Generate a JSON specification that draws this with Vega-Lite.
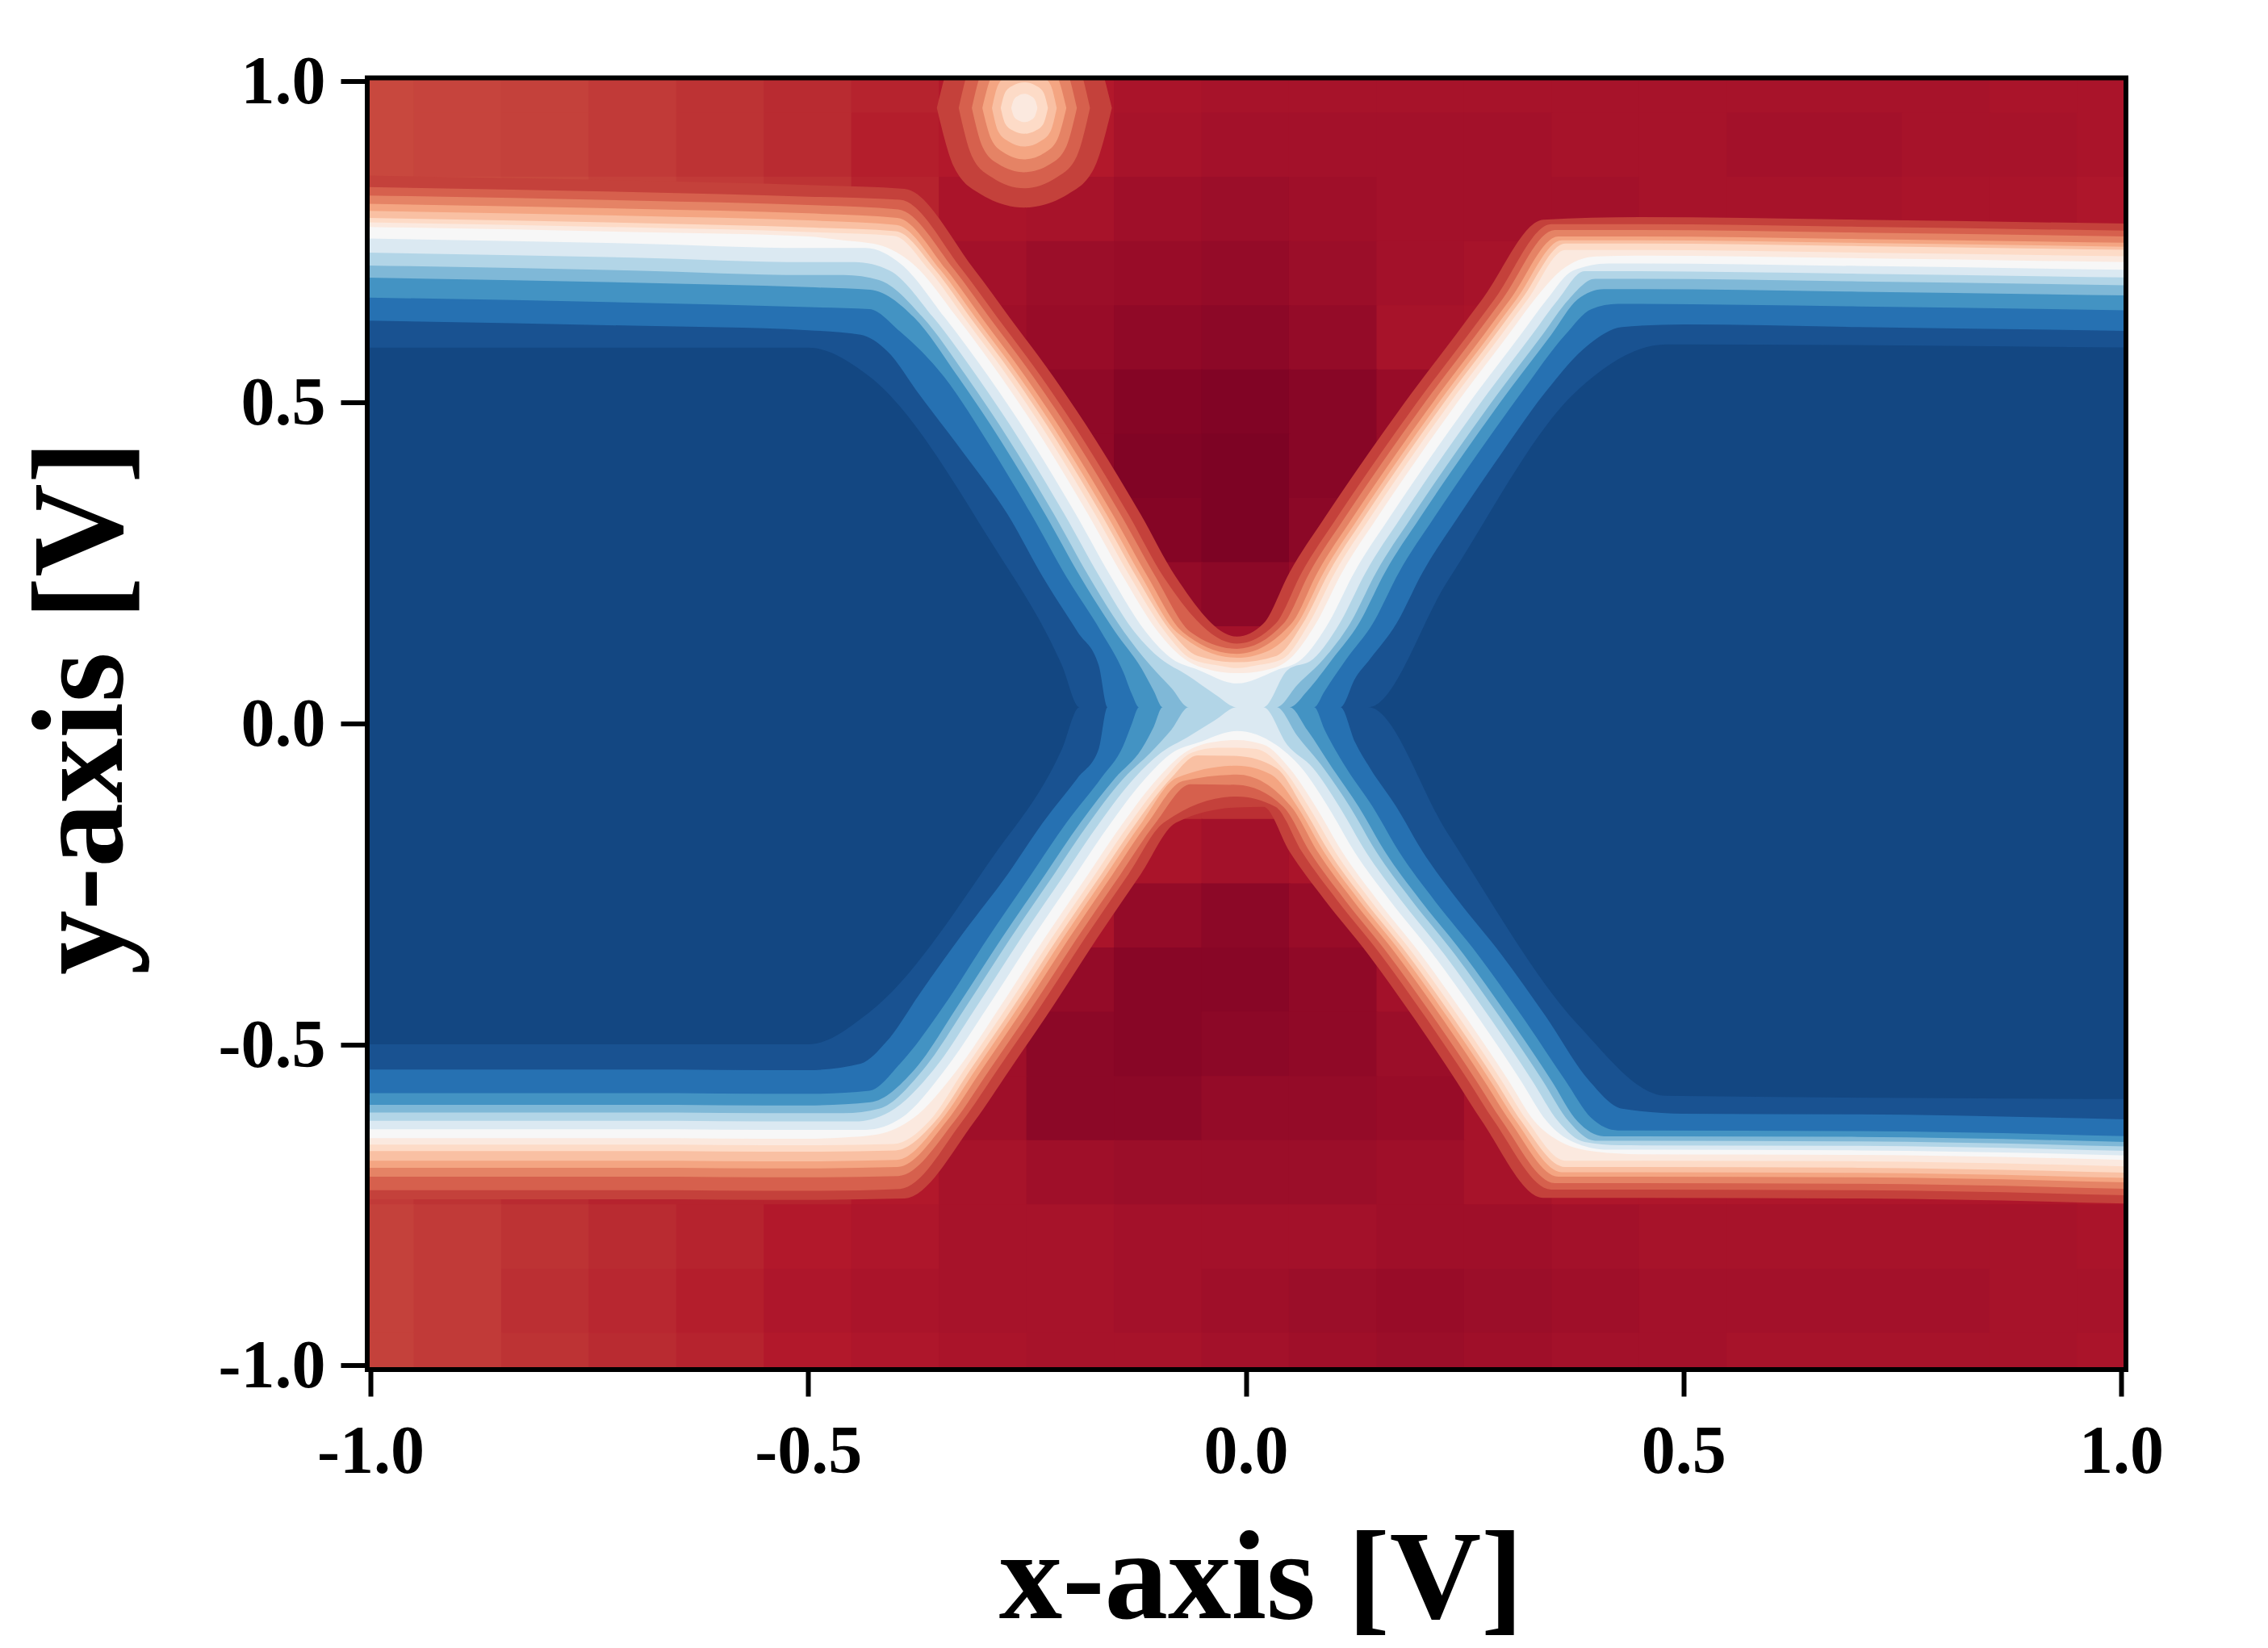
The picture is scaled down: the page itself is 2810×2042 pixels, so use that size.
{"$schema":"https://vega.github.io/schema/vega-lite/v6.json","autosize":{"type":"none"},"padding":{"left":455,"top":96.5,"right":176,"bottom":345},"width":2179,"height":1600.5,"background":"white","config":{"view":{"stroke":null}},
"layer":[
{"data":{"values":[
{"x":-1,"y":1,"v":0.68},{"x":-0.9,"y":1,"v":0.69},{"x":-0.8,"y":1,"v":0.7},{"x":-0.7,"y":1,"v":0.72},{"x":-0.6,"y":1,"v":0.74},{"x":-0.5,"y":1,"v":0.76},{"x":-0.4,"y":1,"v":0.78},{"x":-0.3,"y":1,"v":0.8},{"x":-0.2,"y":1,"v":0.8},{"x":-0.1,"y":1,"v":0.82},{"x":0,"y":1,"v":0.83},{"x":0.1,"y":1,"v":0.83},{"x":0.2,"y":1,"v":0.83},{"x":0.3,"y":1,"v":0.83},{"x":0.4,"y":1,"v":0.83},{"x":0.5,"y":1,"v":0.83},{"x":0.6,"y":1,"v":0.83},{"x":0.7,"y":1,"v":0.83},{"x":0.8,"y":1,"v":0.83},{"x":0.9,"y":1,"v":0.82},{"x":1,"y":1,"v":0.82},
{"x":-1,"y":0.9,"v":0.68},{"x":-0.9,"y":0.9,"v":0.69},{"x":-0.8,"y":0.9,"v":0.7},{"x":-0.7,"y":0.9,"v":0.72},{"x":-0.6,"y":0.9,"v":0.74},{"x":-0.5,"y":0.9,"v":0.76},{"x":-0.4,"y":0.9,"v":0.79},{"x":-0.3,"y":0.9,"v":0.8},{"x":-0.2,"y":0.9,"v":0.8},{"x":-0.1,"y":0.9,"v":0.83},{"x":0,"y":0.9,"v":0.84},{"x":0.1,"y":0.9,"v":0.84},{"x":0.2,"y":0.9,"v":0.84},{"x":0.3,"y":0.9,"v":0.84},{"x":0.4,"y":0.9,"v":0.83},{"x":0.5,"y":0.9,"v":0.83},{"x":0.6,"y":0.9,"v":0.84},{"x":0.7,"y":0.9,"v":0.84},{"x":0.8,"y":0.9,"v":0.83},{"x":0.9,"y":0.9,"v":0.83},{"x":1,"y":0.9,"v":0.82},
{"x":-1,"y":0.8,"v":0.66},{"x":-0.9,"y":0.8,"v":0.67},{"x":-0.8,"y":0.8,"v":0.68},{"x":-0.7,"y":0.8,"v":0.7},{"x":-0.6,"y":0.8,"v":0.72},{"x":-0.5,"y":0.8,"v":0.74},{"x":-0.4,"y":0.8,"v":0.78},{"x":-0.3,"y":0.8,"v":0.82},{"x":-0.2,"y":0.8,"v":0.83},{"x":-0.1,"y":0.8,"v":0.85},{"x":0,"y":0.8,"v":0.86},{"x":0.1,"y":0.8,"v":0.85},{"x":0.2,"y":0.8,"v":0.84},{"x":0.3,"y":0.8,"v":0.84},{"x":0.4,"y":0.8,"v":0.84},{"x":0.5,"y":0.8,"v":0.83},{"x":0.6,"y":0.8,"v":0.83},{"x":0.7,"y":0.8,"v":0.83},{"x":0.8,"y":0.8,"v":0.82},{"x":0.9,"y":0.8,"v":0.82},{"x":1,"y":0.8,"v":0.81},
{"x":-0.4,"y":0.7,"v":0.83},{"x":-0.3,"y":0.7,"v":0.84},{"x":-0.2,"y":0.7,"v":0.86},{"x":-0.1,"y":0.7,"v":0.87},{"x":0,"y":0.7,"v":0.88},{"x":0.1,"y":0.7,"v":0.86},{"x":0.2,"y":0.7,"v":0.84},{"x":0.3,"y":0.7,"v":0.83},{"x":0.4,"y":0.7,"v":0.82},
{"x":-0.4,"y":0.6,"v":0.83},{"x":-0.3,"y":0.6,"v":0.85},{"x":-0.2,"y":0.6,"v":0.87},{"x":-0.1,"y":0.6,"v":0.89},{"x":0,"y":0.6,"v":0.9},{"x":0.1,"y":0.6,"v":0.88},{"x":0.2,"y":0.6,"v":0.83},{"x":0.3,"y":0.6,"v":0.82},{"x":0.4,"y":0.6,"v":0.82},
{"x":-0.2,"y":0.5,"v":0.89},{"x":-0.1,"y":0.5,"v":0.92},{"x":0,"y":0.5,"v":0.93},{"x":0.1,"y":0.5,"v":0.91},{"x":0.2,"y":0.5,"v":0.87},{"x":0.3,"y":0.5,"v":0.83},
{"x":-0.2,"y":0.4,"v":0.89},{"x":-0.1,"y":0.4,"v":0.93},{"x":0,"y":0.4,"v":0.94},{"x":0.1,"y":0.4,"v":0.91},{"x":0.2,"y":0.4,"v":0.87},
{"x":-0.2,"y":0.3,"v":0.87},{"x":-0.1,"y":0.3,"v":0.92},{"x":0,"y":0.3,"v":0.94},{"x":0.1,"y":0.3,"v":0.9},{"x":0.2,"y":0.3,"v":0.84},
{"x":-0.1,"y":0.2,"v":0.88},{"x":0,"y":0.2,"v":0.9},{"x":0.1,"y":0.2,"v":0.87},
{"x":-0.1,"y":0.1,"v":0.8},{"x":0,"y":0.1,"v":0.84},{"x":0.1,"y":0.1,"v":0.8},
{"x":-0.1,"y":-0.1,"v":0.75},{"x":0,"y":-0.1,"v":0.75},{"x":0.1,"y":-0.1,"v":0.75},
{"x":-0.2,"y":-0.2,"v":0.8},{"x":-0.1,"y":-0.2,"v":0.82},{"x":0,"y":-0.2,"v":0.84},{"x":0.1,"y":-0.2,"v":0.82},{"x":0.2,"y":-0.2,"v":0.8},
{"x":-0.2,"y":-0.3,"v":0.82},{"x":-0.1,"y":-0.3,"v":0.88},{"x":0,"y":-0.3,"v":0.9},{"x":0.1,"y":-0.3,"v":0.87},{"x":0.2,"y":-0.3,"v":0.82},
{"x":-0.3,"y":-0.4,"v":0.83},{"x":-0.2,"y":-0.4,"v":0.88},{"x":-0.1,"y":-0.4,"v":0.91},{"x":0,"y":-0.4,"v":0.91},{"x":0.1,"y":-0.4,"v":0.89},{"x":0.2,"y":-0.4,"v":0.84},{"x":0.3,"y":-0.4,"v":0.82},
{"x":-0.3,"y":-0.5,"v":0.85},{"x":-0.2,"y":-0.5,"v":0.9},{"x":-0.1,"y":-0.5,"v":0.91},{"x":0,"y":-0.5,"v":0.9},{"x":0.1,"y":-0.5,"v":0.89},{"x":0.2,"y":-0.5,"v":0.86},{"x":0.3,"y":-0.5,"v":0.82},
{"x":-0.4,"y":-0.6,"v":0.82},{"x":-0.3,"y":-0.6,"v":0.85},{"x":-0.2,"y":-0.6,"v":0.9},{"x":-0.1,"y":-0.6,"v":0.9},{"x":0,"y":-0.6,"v":0.88},{"x":0.1,"y":-0.6,"v":0.88},{"x":0.2,"y":-0.6,"v":0.87},{"x":0.3,"y":-0.6,"v":0.83},{"x":0.4,"y":-0.6,"v":0.82},
{"x":-1,"y":-0.7,"v":0.72},{"x":-0.9,"y":-0.7,"v":0.74},{"x":-0.8,"y":-0.7,"v":0.76},{"x":-0.7,"y":-0.7,"v":0.78},{"x":-0.6,"y":-0.7,"v":0.78},{"x":-0.5,"y":-0.7,"v":0.78},{"x":-0.4,"y":-0.7,"v":0.8},{"x":-0.3,"y":-0.7,"v":0.83},{"x":-0.2,"y":-0.7,"v":0.85},{"x":-0.1,"y":-0.7,"v":0.86},{"x":0,"y":-0.7,"v":0.86},{"x":0.1,"y":-0.7,"v":0.86},{"x":0.2,"y":-0.7,"v":0.85},{"x":0.3,"y":-0.7,"v":0.83},{"x":0.4,"y":-0.7,"v":0.81},{"x":0.5,"y":-0.7,"v":0.81},{"x":0.6,"y":-0.7,"v":0.81},{"x":0.7,"y":-0.7,"v":0.81},{"x":0.8,"y":-0.7,"v":0.81},{"x":0.9,"y":-0.7,"v":0.81},{"x":1,"y":-0.7,"v":0.8},
{"x":-1,"y":-0.8,"v":0.7},{"x":-0.9,"y":-0.8,"v":0.72},{"x":-0.8,"y":-0.8,"v":0.74},{"x":-0.7,"y":-0.8,"v":0.76},{"x":-0.6,"y":-0.8,"v":0.78},{"x":-0.5,"y":-0.8,"v":0.8},{"x":-0.4,"y":-0.8,"v":0.81},{"x":-0.3,"y":-0.8,"v":0.83},{"x":-0.2,"y":-0.8,"v":0.83},{"x":-0.1,"y":-0.8,"v":0.84},{"x":0,"y":-0.8,"v":0.84},{"x":0.1,"y":-0.8,"v":0.84},{"x":0.2,"y":-0.8,"v":0.85},{"x":0.3,"y":-0.8,"v":0.85},{"x":0.4,"y":-0.8,"v":0.84},{"x":0.5,"y":-0.8,"v":0.83},{"x":0.6,"y":-0.8,"v":0.83},{"x":0.7,"y":-0.8,"v":0.83},{"x":0.8,"y":-0.8,"v":0.83},{"x":0.9,"y":-0.8,"v":0.83},{"x":1,"y":-0.8,"v":0.82},
{"x":-1,"y":-0.9,"v":0.7},{"x":-0.9,"y":-0.9,"v":0.72},{"x":-0.8,"y":-0.9,"v":0.75},{"x":-0.7,"y":-0.9,"v":0.77},{"x":-0.6,"y":-0.9,"v":0.79},{"x":-0.5,"y":-0.9,"v":0.81},{"x":-0.4,"y":-0.9,"v":0.82},{"x":-0.3,"y":-0.9,"v":0.83},{"x":-0.2,"y":-0.9,"v":0.83},{"x":-0.1,"y":-0.9,"v":0.84},{"x":0,"y":-0.9,"v":0.85},{"x":0.1,"y":-0.9,"v":0.86},{"x":0.2,"y":-0.9,"v":0.87},{"x":0.3,"y":-0.9,"v":0.86},{"x":0.4,"y":-0.9,"v":0.85},{"x":0.5,"y":-0.9,"v":0.84},{"x":0.6,"y":-0.9,"v":0.84},{"x":0.7,"y":-0.9,"v":0.84},{"x":0.8,"y":-0.9,"v":0.84},{"x":0.9,"y":-0.9,"v":0.83},{"x":1,"y":-0.9,"v":0.83},
{"x":-1,"y":-1,"v":0.7},{"x":-0.9,"y":-1,"v":0.72},{"x":-0.8,"y":-1,"v":0.74},{"x":-0.7,"y":-1,"v":0.76},{"x":-0.6,"y":-1,"v":0.78},{"x":-0.5,"y":-1,"v":0.8},{"x":-0.4,"y":-1,"v":0.81},{"x":-0.3,"y":-1,"v":0.82},{"x":-0.2,"y":-1,"v":0.83},{"x":-0.1,"y":-1,"v":0.83},{"x":0,"y":-1,"v":0.84},{"x":0.1,"y":-1,"v":0.85},{"x":0.2,"y":-1,"v":0.86},{"x":0.3,"y":-1,"v":0.85},{"x":0.4,"y":-1,"v":0.84},{"x":0.5,"y":-1,"v":0.84},{"x":0.6,"y":-1,"v":0.83},{"x":0.7,"y":-1,"v":0.83},{"x":0.8,"y":-1,"v":0.83},{"x":0.9,"y":-1,"v":0.83},{"x":1,"y":-1,"v":0.82}
]},
"mark":{"type":"rect","width":110,"height":81,"clip":true},
"encoding":{
"x":{"field":"x","type":"quantitative","scale":{"domain":[-1.0037,1.0055],"nice":false,"zero":false},"axis":{"values":[-1,-0.5,0,0.5,1],"labelExpr":"datum.value<0?'-'+format(-datum.value,'.1f'):format(datum.value,'.1f')","title":"x-axis [V]","grid":false,"domain":false,"tickSize":33,"tickWidth":6,"tickColor":"#000","labelColor":"#000","labelFont":"Liberation Serif","labelFontWeight":"bold","labelFontSize":84,"labelPadding":28,"labelOverlap":false,"titleFont":"Liberation Serif","titleFontWeight":"bold","titleFontSize":157,"titleColor":"#000","titleX":1107,"titleY":307,"titleBaseline":"alphabetic"}},
"y":{"field":"y","type":"quantitative","scale":{"domain":[-1.0063,1.0049],"nice":false,"zero":false},"axis":{"values":[-1,-0.5,0,0.5,1],"labelExpr":"datum.value<0?'-'+format(-datum.value,'.1f'):format(datum.value,'.1f')","title":"y-axis [V]","grid":false,"domain":false,"tickSize":33,"tickWidth":6,"tickColor":"#000","labelColor":"#000","labelFont":"Liberation Serif","labelFontWeight":"bold","labelFontSize":84,"labelPadding":19,"labelOffset":2,"labelOverlap":false,"titleFont":"Liberation Serif","titleFontWeight":"bold","titleFontSize":160,"titleColor":"#000","titleAngle":-90,"titleX":-305,"titleY":780,"titleBaseline":"alphabetic"}},
"color":{"field":"v","type":"quantitative","scale":{"domain":[-1,-0.8,-0.6,-0.4,-0.2,0,0.2,0.4,0.6,0.8,1],"range":["#053061","#2166ac","#4393c3","#92c5de","#d1e5f0","#f7f7f7","#fddbc7","#f4a582","#d6604d","#b2182b","#67001f"]},"legend":null}}},
{"data":{"values":[
{"v":0.7,"x":-0.353,"t":0.958,"b":0.958},{"v":0.7,"x":-0.333,"t":1.051,"b":0.865},{"v":0.7,"x":-0.303,"t":1.092,"b":0.824},{"v":0.7,"x":-0.253,"t":1.113,"b":0.803},{"v":0.7,"x":-0.203,"t":1.092,"b":0.824},{"v":0.7,"x":-0.173,"t":1.051,"b":0.865},{"v":0.7,"x":-0.153,"t":0.958,"b":0.958},
{"v":0.6,"x":-0.328,"t":0.958,"b":0.958},{"v":0.6,"x":-0.313,"t":1.033,"b":0.883},{"v":0.6,"x":-0.29,"t":1.066,"b":0.85},{"v":0.6,"x":-0.253,"t":1.083,"b":0.833},{"v":0.6,"x":-0.216,"t":1.066,"b":0.85},{"v":0.6,"x":-0.193,"t":1.033,"b":0.883},{"v":0.6,"x":-0.178,"t":0.958,"b":0.958},
{"v":0.5,"x":-0.313,"t":0.958,"b":0.958},{"v":0.5,"x":-0.301,"t":1.018,"b":0.898},{"v":0.5,"x":-0.283,"t":1.045,"b":0.871},{"v":0.5,"x":-0.253,"t":1.058,"b":0.858},{"v":0.5,"x":-0.223,"t":1.045,"b":0.871},{"v":0.5,"x":-0.205,"t":1.018,"b":0.898},{"v":0.5,"x":-0.193,"t":0.958,"b":0.958},
{"v":0.4,"x":-0.301,"t":0.958,"b":0.958},{"v":0.4,"x":-0.291,"t":1.006,"b":0.91},{"v":0.4,"x":-0.277,"t":1.027,"b":0.889},{"v":0.4,"x":-0.253,"t":1.038,"b":0.878},{"v":0.4,"x":-0.229,"t":1.027,"b":0.889},{"v":0.4,"x":-0.215,"t":1.006,"b":0.91},{"v":0.4,"x":-0.205,"t":0.958,"b":0.958},
{"v":0.3,"x":-0.29,"t":0.958,"b":0.958},{"v":0.3,"x":-0.283,"t":0.994,"b":0.922},{"v":0.3,"x":-0.271,"t":1.01,"b":0.906},{"v":0.3,"x":-0.253,"t":1.018,"b":0.898},{"v":0.3,"x":-0.235,"t":1.01,"b":0.906},{"v":0.3,"x":-0.223,"t":0.994,"b":0.922},{"v":0.3,"x":-0.216,"t":0.958,"b":0.958},
{"v":0.2,"x":-0.28,"t":0.958,"b":0.958},{"v":0.2,"x":-0.275,"t":0.982,"b":0.934},{"v":0.2,"x":-0.266,"t":0.993,"b":0.923},{"v":0.2,"x":-0.253,"t":0.998,"b":0.918},{"v":0.2,"x":-0.24,"t":0.993,"b":0.923},{"v":0.2,"x":-0.231,"t":0.982,"b":0.934},{"v":0.2,"x":-0.226,"t":0.958,"b":0.958},
{"v":0.1,"x":-0.268,"t":0.958,"b":0.958},{"v":0.1,"x":-0.265,"t":0.971,"b":0.945},{"v":0.1,"x":-0.26,"t":0.977,"b":0.939},{"v":0.1,"x":-0.253,"t":0.98,"b":0.936},{"v":0.1,"x":-0.246,"t":0.977,"b":0.939},{"v":0.1,"x":-0.241,"t":0.971,"b":0.945},{"v":0.1,"x":-0.238,"t":0.958,"b":0.958}
]},
"mark":{"type":"area","interpolate":"monotone","clip":true},
"encoding":{"x":{"field":"x","type":"quantitative","scale":{"domain":[-1.0037,1.0055],"nice":false,"zero":false}},"y":{"field":"t","type":"quantitative","scale":{"domain":[-1.0063,1.0049],"nice":false,"zero":false}},"y2":{"field":"b"},"detail":{"field":"v","type":"nominal"},"color":{"field":"v","type":"quantitative","scale":{"domain":[-1,-0.8,-0.6,-0.4,-0.2,0,0.2,0.4,0.6,0.8,1],"range":["#053061","#2166ac","#4393c3","#92c5de","#d1e5f0","#f7f7f7","#fddbc7","#f4a582","#d6604d","#b2182b","#67001f"]},"legend":null}}},
{"data":{"values":[
{"v":0.7,"x":-1.01,"t":0.853,"b":-0.741},{"v":0.7,"x":-0.7,"t":0.845,"b":-0.741},{"v":0.7,"x":-0.5,"t":0.838,"b":-0.742},{"v":0.7,"x":-0.39,"t":0.832,"b":-0.74},{"v":0.7,"x":-0.31,"t":0.706,"b":-0.62},{"v":0.7,"x":-0.27,"t":0.632,"b":-0.54},{"v":0.7,"x":-0.22,"t":0.54,"b":-0.44},{"v":0.7,"x":-0.17,"t":0.438,"b":-0.335},{"v":0.7,"x":-0.12,"t":0.325,"b":-0.235},{"v":0.7,"x":-0.08,"t":0.228,"b":-0.155},{"v":0.7,"x":-0.01,"t":0.135,"b":-0.131},{"v":0.7,"x":0.02,"t":0.155,"b":-0.13},{"v":0.7,"x":0.05,"t":0.235,"b":-0.2},{"v":0.7,"x":0.09,"t":0.32,"b":-0.275},{"v":0.7,"x":0.14,"t":0.42,"b":-0.36},{"v":0.7,"x":0.19,"t":0.515,"b":-0.455},{"v":0.7,"x":0.24,"t":0.605,"b":-0.556},{"v":0.7,"x":0.27,"t":0.66,"b":-0.62},{"v":0.7,"x":0.34,"t":0.784,"b":-0.739},{"v":0.7,"x":0.45,"t":0.788,"b":-0.739},{"v":0.7,"x":0.7,"t":0.784,"b":-0.74},{"v":0.7,"x":1.01,"t":0.778,"b":-0.748},
{"v":0.6,"x":-1.01,"t":0.835,"b":-0.727},{"v":0.6,"x":-0.7,"t":0.827,"b":-0.727},{"v":0.6,"x":-0.5,"t":0.82,"b":-0.728},{"v":0.6,"x":-0.395,"t":0.815,"b":-0.725},{"v":0.6,"x":-0.324,"t":0.706,"b":-0.62},{"v":0.6,"x":-0.284,"t":0.632,"b":-0.54},{"v":0.6,"x":-0.234,"t":0.54,"b":-0.44},{"v":0.6,"x":-0.184,"t":0.438,"b":-0.335},{"v":0.6,"x":-0.134,"t":0.325,"b":-0.235},{"v":0.6,"x":-0.094,"t":0.228,"b":-0.155},{"v":0.6,"x":-0.01,"t":0.124,"b":-0.114},{"v":0.6,"x":0.034,"t":0.155,"b":-0.13},{"v":0.6,"x":0.064,"t":0.235,"b":-0.2},{"v":0.6,"x":0.104,"t":0.32,"b":-0.275},{"v":0.6,"x":0.154,"t":0.42,"b":-0.36},{"v":0.6,"x":0.204,"t":0.515,"b":-0.455},{"v":0.6,"x":0.254,"t":0.605,"b":-0.556},{"v":0.6,"x":0.284,"t":0.66,"b":-0.62},{"v":0.6,"x":0.349,"t":0.777,"b":-0.726},{"v":0.6,"x":0.45,"t":0.777,"b":-0.726},{"v":0.6,"x":0.7,"t":0.773,"b":-0.727},{"v":0.6,"x":1.01,"t":0.767,"b":-0.735},
{"v":0.5,"x":-1.01,"t":0.822,"b":-0.706},{"v":0.5,"x":-0.7,"t":0.814,"b":-0.706},{"v":0.5,"x":-0.5,"t":0.807,"b":-0.707},{"v":0.5,"x":-0.397,"t":0.8,"b":-0.705},{"v":0.5,"x":-0.333,"t":0.706,"b":-0.62},{"v":0.5,"x":-0.293,"t":0.632,"b":-0.54},{"v":0.5,"x":-0.243,"t":0.54,"b":-0.44},{"v":0.5,"x":-0.193,"t":0.438,"b":-0.335},{"v":0.5,"x":-0.143,"t":0.325,"b":-0.235},{"v":0.5,"x":-0.103,"t":0.228,"b":-0.155},{"v":0.5,"x":-0.063,"t":0.142,"b":-0.095},{"v":0.5,"x":-0.01,"t":0.116,"b":-0.096},{"v":0.5,"x":0.043,"t":0.155,"b":-0.13},{"v":0.5,"x":0.073,"t":0.235,"b":-0.2},{"v":0.5,"x":0.113,"t":0.32,"b":-0.275},{"v":0.5,"x":0.163,"t":0.42,"b":-0.36},{"v":0.5,"x":0.213,"t":0.515,"b":-0.455},{"v":0.5,"x":0.263,"t":0.605,"b":-0.556},{"v":0.5,"x":0.293,"t":0.66,"b":-0.62},{"v":0.5,"x":0.353,"t":0.768,"b":-0.716},{"v":0.5,"x":0.45,"t":0.768,"b":-0.716},{"v":0.5,"x":0.7,"t":0.764,"b":-0.717},{"v":0.5,"x":1.01,"t":0.758,"b":-0.725},
{"v":0.4,"x":-1.01,"t":0.809,"b":-0.692},{"v":0.4,"x":-0.7,"t":0.801,"b":-0.692},{"v":0.4,"x":-0.5,"t":0.794,"b":-0.693},{"v":0.4,"x":-0.398,"t":0.787,"b":-0.691},{"v":0.4,"x":-0.342,"t":0.706,"b":-0.62},{"v":0.4,"x":-0.302,"t":0.632,"b":-0.54},{"v":0.4,"x":-0.252,"t":0.54,"b":-0.44},{"v":0.4,"x":-0.202,"t":0.438,"b":-0.335},{"v":0.4,"x":-0.152,"t":0.325,"b":-0.235},{"v":0.4,"x":-0.112,"t":0.228,"b":-0.155},{"v":0.4,"x":-0.072,"t":0.142,"b":-0.09},{"v":0.4,"x":-0.01,"t":0.108,"b":-0.08},{"v":0.4,"x":0.052,"t":0.155,"b":-0.13},{"v":0.4,"x":0.082,"t":0.235,"b":-0.2},{"v":0.4,"x":0.122,"t":0.32,"b":-0.275},{"v":0.4,"x":0.172,"t":0.42,"b":-0.36},{"v":0.4,"x":0.222,"t":0.515,"b":-0.455},{"v":0.4,"x":0.272,"t":0.605,"b":-0.556},{"v":0.4,"x":0.302,"t":0.66,"b":-0.62},{"v":0.4,"x":0.357,"t":0.758,"b":-0.706},{"v":0.4,"x":0.45,"t":0.758,"b":-0.706},{"v":0.4,"x":0.7,"t":0.754,"b":-0.707},{"v":0.4,"x":1.01,"t":0.748,"b":-0.715},
{"v":0.3,"x":-1.01,"t":0.798,"b":-0.681},{"v":0.3,"x":-0.7,"t":0.79,"b":-0.681},{"v":0.3,"x":-0.5,"t":0.783,"b":-0.682},{"v":0.3,"x":-0.399,"t":0.776,"b":-0.68},{"v":0.3,"x":-0.349,"t":0.706,"b":-0.62},{"v":0.3,"x":-0.309,"t":0.632,"b":-0.54},{"v":0.3,"x":-0.259,"t":0.54,"b":-0.44},{"v":0.3,"x":-0.209,"t":0.438,"b":-0.335},{"v":0.3,"x":-0.159,"t":0.325,"b":-0.235},{"v":0.3,"x":-0.119,"t":0.228,"b":-0.155},{"v":0.3,"x":-0.079,"t":0.142,"b":-0.085},{"v":0.3,"x":-0.01,"t":0.102,"b":-0.066},{"v":0.3,"x":0.029,"t":0.115,"b":-0.08},{"v":0.3,"x":0.059,"t":0.155,"b":-0.13},{"v":0.3,"x":0.089,"t":0.235,"b":-0.2},{"v":0.3,"x":0.129,"t":0.32,"b":-0.275},{"v":0.3,"x":0.179,"t":0.42,"b":-0.36},{"v":0.3,"x":0.229,"t":0.515,"b":-0.455},{"v":0.3,"x":0.279,"t":0.605,"b":-0.556},{"v":0.3,"x":0.309,"t":0.66,"b":-0.62},{"v":0.3,"x":0.361,"t":0.752,"b":-0.699},{"v":0.3,"x":0.45,"t":0.752,"b":-0.699},{"v":0.3,"x":0.7,"t":0.748,"b":-0.7},{"v":0.3,"x":1.01,"t":0.742,"b":-0.708},
{"v":0.2,"x":-1.01,"t":0.787,"b":-0.666},{"v":0.2,"x":-0.7,"t":0.779,"b":-0.666},{"v":0.2,"x":-0.5,"t":0.772,"b":-0.667},{"v":0.2,"x":-0.4,"t":0.766,"b":-0.665},{"v":0.2,"x":-0.355,"t":0.706,"b":-0.62},{"v":0.2,"x":-0.315,"t":0.632,"b":-0.54},{"v":0.2,"x":-0.265,"t":0.54,"b":-0.44},{"v":0.2,"x":-0.215,"t":0.438,"b":-0.335},{"v":0.2,"x":-0.165,"t":0.325,"b":-0.235},{"v":0.2,"x":-0.125,"t":0.228,"b":-0.155},{"v":0.2,"x":-0.085,"t":0.142,"b":-0.085},{"v":0.2,"x":-0.055,"t":0.105,"b":-0.05},{"v":0.2,"x":-0.01,"t":0.095,"b":-0.051},{"v":0.2,"x":0.035,"t":0.105,"b":-0.07},{"v":0.2,"x":0.065,"t":0.155,"b":-0.13},{"v":0.2,"x":0.095,"t":0.235,"b":-0.2},{"v":0.2,"x":0.135,"t":0.32,"b":-0.275},{"v":0.2,"x":0.185,"t":0.42,"b":-0.36},{"v":0.2,"x":0.235,"t":0.515,"b":-0.455},{"v":0.2,"x":0.285,"t":0.605,"b":-0.556},{"v":0.2,"x":0.315,"t":0.66,"b":-0.62},{"v":0.2,"x":0.365,"t":0.747,"b":-0.691},{"v":0.2,"x":0.45,"t":0.747,"b":-0.691},{"v":0.2,"x":0.7,"t":0.743,"b":-0.692},{"v":0.2,"x":1.01,"t":0.737,"b":-0.7},
{"v":0.1,"x":-1.01,"t":0.78,"b":-0.656},{"v":0.1,"x":-0.7,"t":0.772,"b":-0.656},{"v":0.1,"x":-0.5,"t":0.765,"b":-0.657},{"v":0.1,"x":-0.402,"t":0.759,"b":-0.655},{"v":0.1,"x":-0.362,"t":0.706,"b":-0.62},{"v":0.1,"x":-0.322,"t":0.632,"b":-0.54},{"v":0.1,"x":-0.272,"t":0.54,"b":-0.44},{"v":0.1,"x":-0.222,"t":0.438,"b":-0.335},{"v":0.1,"x":-0.172,"t":0.325,"b":-0.235},{"v":0.1,"x":-0.132,"t":0.228,"b":-0.155},{"v":0.1,"x":-0.092,"t":0.142,"b":-0.085},{"v":0.1,"x":-0.062,"t":0.1,"b":-0.046},{"v":0.1,"x":-0.032,"t":0.09,"b":-0.038},{"v":0.1,"x":-0.01,"t":0.086,"b":-0.038},{"v":0.1,"x":0.012,"t":0.09,"b":-0.04},{"v":0.1,"x":0.042,"t":0.1,"b":-0.07},{"v":0.1,"x":0.072,"t":0.155,"b":-0.13},{"v":0.1,"x":0.102,"t":0.235,"b":-0.2},{"v":0.1,"x":0.142,"t":0.32,"b":-0.275},{"v":0.1,"x":0.192,"t":0.42,"b":-0.36},{"v":0.1,"x":0.242,"t":0.515,"b":-0.455},{"v":0.1,"x":0.292,"t":0.605,"b":-0.556},{"v":0.1,"x":0.322,"t":0.66,"b":-0.62},{"v":0.1,"x":0.365,"t":0.737,"b":-0.681},{"v":0.1,"x":0.45,"t":0.737,"b":-0.681},{"v":0.1,"x":0.7,"t":0.733,"b":-0.682},{"v":0.1,"x":1.01,"t":0.727,"b":-0.69},
{"v":0,"x":-1.01,"t":0.773,"b":-0.646},{"v":0,"x":-0.7,"t":0.765,"b":-0.646},{"v":0,"x":-0.5,"t":0.758,"b":-0.647},{"v":0,"x":-0.46,"t":0.752,"b":-0.645},{"v":0,"x":-0.42,"t":0.745,"b":-0.64},{"v":0,"x":-0.38,"t":0.715,"b":-0.615},{"v":0,"x":-0.33,"t":0.632,"b":-0.54},{"v":0,"x":-0.28,"t":0.54,"b":-0.44},{"v":0,"x":-0.23,"t":0.438,"b":-0.335},{"v":0,"x":-0.18,"t":0.325,"b":-0.235},{"v":0,"x":-0.14,"t":0.228,"b":-0.155},{"v":0,"x":-0.1,"t":0.142,"b":-0.085},{"v":0,"x":-0.07,"t":0.1,"b":-0.046},{"v":0,"x":-0.04,"t":0.083,"b":-0.03},{"v":0,"x":-0.01,"t":0.078,"b":-0.026},{"v":0,"x":0.02,"t":0.082,"b":-0.033},{"v":0,"x":0.05,"t":0.1,"b":-0.07},{"v":0,"x":0.08,"t":0.155,"b":-0.13},{"v":0,"x":0.11,"t":0.235,"b":-0.2},{"v":0,"x":0.15,"t":0.32,"b":-0.275},{"v":0,"x":0.2,"t":0.42,"b":-0.36},{"v":0,"x":0.25,"t":0.515,"b":-0.455},{"v":0,"x":0.3,"t":0.605,"b":-0.556},{"v":0,"x":0.33,"t":0.66,"b":-0.62},{"v":0,"x":0.36,"t":0.705,"b":-0.652},{"v":0,"x":0.4,"t":0.727,"b":-0.667},{"v":0,"x":0.45,"t":0.728,"b":-0.671},{"v":0,"x":0.7,"t":0.724,"b":-0.672},{"v":0,"x":1.01,"t":0.718,"b":-0.68},
{"v":-0.15,"x":-1.01,"t":0.755,"b":-0.632},{"v":-0.15,"x":-0.7,"t":0.747,"b":-0.632},{"v":-0.15,"x":-0.5,"t":0.74,"b":-0.633},{"v":-0.15,"x":-0.434,"t":0.74,"b":-0.633},{"v":-0.15,"x":-0.394,"t":0.715,"b":-0.615},{"v":-0.15,"x":-0.344,"t":0.632,"b":-0.54},{"v":-0.15,"x":-0.294,"t":0.54,"b":-0.44},{"v":-0.15,"x":-0.244,"t":0.438,"b":-0.335},{"v":-0.15,"x":-0.194,"t":0.325,"b":-0.235},{"v":-0.15,"x":-0.154,"t":0.228,"b":-0.155},{"v":-0.15,"x":-0.114,"t":0.142,"b":-0.085},{"v":-0.15,"x":-0.084,"t":0.1,"b":-0.046},{"v":-0.15,"x":-0.054,"t":0.083,"b":-0.03},{"v":-0.15,"x":-0.01,"t":0.062,"b":-0.012},{"v":-0.15,"x":0.034,"t":0.082,"b":-0.033},{"v":-0.15,"x":0.064,"t":0.1,"b":-0.07},{"v":-0.15,"x":0.094,"t":0.155,"b":-0.13},{"v":-0.15,"x":0.124,"t":0.235,"b":-0.2},{"v":-0.15,"x":0.164,"t":0.32,"b":-0.275},{"v":-0.15,"x":0.214,"t":0.42,"b":-0.36},{"v":-0.15,"x":0.264,"t":0.515,"b":-0.455},{"v":-0.15,"x":0.314,"t":0.605,"b":-0.556},{"v":-0.15,"x":0.344,"t":0.66,"b":-0.62},{"v":-0.15,"x":0.374,"t":0.705,"b":-0.652},{"v":-0.15,"x":0.414,"t":0.716,"b":-0.664},{"v":-0.15,"x":0.45,"t":0.716,"b":-0.664},{"v":-0.15,"x":0.7,"t":0.712,"b":-0.665},{"v":-0.15,"x":1.01,"t":0.706,"b":-0.673},
{"v":-0.3,"x":-1.01,"t":0.733,"b":-0.619},{"v":-0.3,"x":-0.7,"t":0.725,"b":-0.619},{"v":-0.3,"x":-0.5,"t":0.718,"b":-0.62},{"v":-0.3,"x":-0.447,"t":0.718,"b":-0.62},{"v":-0.3,"x":-0.407,"t":0.705,"b":-0.605},{"v":-0.3,"x":-0.357,"t":0.632,"b":-0.54},{"v":-0.3,"x":-0.307,"t":0.54,"b":-0.44},{"v":-0.3,"x":-0.257,"t":0.438,"b":-0.335},{"v":-0.3,"x":-0.207,"t":0.325,"b":-0.235},{"v":-0.3,"x":-0.167,"t":0.228,"b":-0.155},{"v":-0.3,"x":-0.127,"t":0.142,"b":-0.085},{"v":-0.3,"x":-0.097,"t":0.1,"b":-0.046},{"v":-0.3,"x":-0.067,"t":0.075,"b":-0.022},{"v":-0.3,"x":-0.035,"t":0.045,"b":0.005},{"v":-0.3,"x":-0.01,"t":0.025,"b":0.025},{"v":-0.3,"x":0.02,"t":0.025,"b":0.025},{"v":-0.3,"x":0.047,"t":0.082,"b":-0.033},{"v":-0.3,"x":0.077,"t":0.1,"b":-0.07},{"v":-0.3,"x":0.107,"t":0.155,"b":-0.13},{"v":-0.3,"x":0.137,"t":0.235,"b":-0.2},{"v":-0.3,"x":0.177,"t":0.32,"b":-0.275},{"v":-0.3,"x":0.227,"t":0.42,"b":-0.36},{"v":-0.3,"x":0.277,"t":0.515,"b":-0.455},{"v":-0.3,"x":0.327,"t":0.605,"b":-0.556},{"v":-0.3,"x":0.357,"t":0.66,"b":-0.62},{"v":-0.3,"x":0.387,"t":0.704,"b":-0.652},{"v":-0.3,"x":0.427,"t":0.704,"b":-0.657},{"v":-0.3,"x":0.7,"t":0.7,"b":-0.658},{"v":-0.3,"x":1.01,"t":0.694,"b":-0.666},
{"v":-0.45,"x":-1.01,"t":0.713,"b":-0.606},{"v":-0.45,"x":-0.7,"t":0.705,"b":-0.606},{"v":-0.45,"x":-0.5,"t":0.698,"b":-0.607},{"v":-0.45,"x":-0.459,"t":0.698,"b":-0.607},{"v":-0.45,"x":-0.419,"t":0.69,"b":-0.6},{"v":-0.45,"x":-0.369,"t":0.632,"b":-0.54},{"v":-0.45,"x":-0.319,"t":0.54,"b":-0.44},{"v":-0.45,"x":-0.269,"t":0.438,"b":-0.335},{"v":-0.45,"x":-0.219,"t":0.325,"b":-0.235},{"v":-0.45,"x":-0.179,"t":0.228,"b":-0.155},{"v":-0.45,"x":-0.139,"t":0.142,"b":-0.085},{"v":-0.45,"x":-0.109,"t":0.09,"b":-0.046},{"v":-0.45,"x":-0.085,"t":0.055,"b":-0.01},{"v":-0.45,"x":-0.065,"t":0.025,"b":0.025},{"v":-0.45,"x":0.035,"t":0.025,"b":0.025},{"v":-0.45,"x":0.059,"t":0.06,"b":-0.02},{"v":-0.45,"x":0.089,"t":0.1,"b":-0.07},{"v":-0.45,"x":0.119,"t":0.155,"b":-0.13},{"v":-0.45,"x":0.149,"t":0.235,"b":-0.2},{"v":-0.45,"x":0.189,"t":0.32,"b":-0.275},{"v":-0.45,"x":0.239,"t":0.42,"b":-0.36},{"v":-0.45,"x":0.289,"t":0.515,"b":-0.455},{"v":-0.45,"x":0.339,"t":0.605,"b":-0.556},{"v":-0.45,"x":0.369,"t":0.66,"b":-0.62},{"v":-0.45,"x":0.399,"t":0.692,"b":-0.65},{"v":-0.45,"x":0.439,"t":0.692,"b":-0.65},{"v":-0.45,"x":0.7,"t":0.688,"b":-0.651},{"v":-0.45,"x":1.01,"t":0.682,"b":-0.659},
{"v":-0.6,"x":-1.01,"t":0.694,"b":-0.594},{"v":-0.6,"x":-0.7,"t":0.686,"b":-0.594},{"v":-0.6,"x":-0.5,"t":0.679,"b":-0.595},{"v":-0.6,"x":-0.429,"t":0.675,"b":-0.59},{"v":-0.6,"x":-0.379,"t":0.632,"b":-0.54},{"v":-0.6,"x":-0.329,"t":0.54,"b":-0.44},{"v":-0.6,"x":-0.279,"t":0.438,"b":-0.335},{"v":-0.6,"x":-0.229,"t":0.325,"b":-0.235},{"v":-0.6,"x":-0.189,"t":0.228,"b":-0.155},{"v":-0.6,"x":-0.149,"t":0.142,"b":-0.085},{"v":-0.6,"x":-0.119,"t":0.085,"b":-0.04},{"v":-0.6,"x":-0.105,"t":0.05,"b":-0.005},{"v":-0.6,"x":-0.095,"t":0.025,"b":0.025},{"v":-0.6,"x":0.05,"t":0.025,"b":0.025},{"v":-0.6,"x":0.07,"t":0.05,"b":-0.01},{"v":-0.6,"x":0.099,"t":0.1,"b":-0.07},{"v":-0.6,"x":0.129,"t":0.155,"b":-0.13},{"v":-0.6,"x":0.159,"t":0.235,"b":-0.2},{"v":-0.6,"x":0.199,"t":0.32,"b":-0.275},{"v":-0.6,"x":0.249,"t":0.42,"b":-0.36},{"v":-0.6,"x":0.299,"t":0.515,"b":-0.455},{"v":-0.6,"x":0.349,"t":0.605,"b":-0.556},{"v":-0.6,"x":0.379,"t":0.66,"b":-0.62},{"v":-0.6,"x":0.409,"t":0.676,"b":-0.643},{"v":-0.6,"x":0.45,"t":0.676,"b":-0.643},{"v":-0.6,"x":0.7,"t":0.672,"b":-0.644},{"v":-0.6,"x":1.01,"t":0.666,"b":-0.652},
{"v":-0.75,"x":-1.01,"t":0.663,"b":-0.576},{"v":-0.75,"x":-0.7,"t":0.655,"b":-0.576},{"v":-0.75,"x":-0.5,"t":0.648,"b":-0.577},{"v":-0.75,"x":-0.43,"t":0.645,"b":-0.572},{"v":-0.75,"x":-0.395,"t":0.61,"b":-0.53},{"v":-0.75,"x":-0.345,"t":0.54,"b":-0.44},{"v":-0.75,"x":-0.295,"t":0.438,"b":-0.335},{"v":-0.75,"x":-0.245,"t":0.325,"b":-0.235},{"v":-0.75,"x":-0.205,"t":0.228,"b":-0.155},{"v":-0.75,"x":-0.165,"t":0.142,"b":-0.085},{"v":-0.75,"x":-0.14,"t":0.08,"b":-0.035},{"v":-0.75,"x":-0.13,"t":0.045,"b":0},{"v":-0.75,"x":-0.122,"t":0.025,"b":0.025},{"v":-0.75,"x":0.078,"t":0.025,"b":0.025},{"v":-0.75,"x":0.09,"t":0.05,"b":-0.01},{"v":-0.75,"x":0.115,"t":0.1,"b":-0.07},{"v":-0.75,"x":0.145,"t":0.155,"b":-0.13},{"v":-0.75,"x":0.175,"t":0.235,"b":-0.2},{"v":-0.75,"x":0.215,"t":0.32,"b":-0.275},{"v":-0.75,"x":0.265,"t":0.42,"b":-0.36},{"v":-0.75,"x":0.315,"t":0.515,"b":-0.455},{"v":-0.75,"x":0.365,"t":0.605,"b":-0.556},{"v":-0.75,"x":0.395,"t":0.645,"b":-0.615},{"v":-0.75,"x":0.425,"t":0.653,"b":-0.634},{"v":-0.75,"x":0.7,"t":0.649,"b":-0.635},{"v":-0.75,"x":1.01,"t":0.643,"b":-0.643},
{"v":-0.87,"x":-1.01,"t":0.627,"b":-0.539},{"v":-0.87,"x":-0.7,"t":0.619,"b":-0.539},{"v":-0.87,"x":-0.5,"t":0.612,"b":-0.54},{"v":-0.87,"x":-0.44,"t":0.605,"b":-0.53},{"v":-0.87,"x":-0.41,"t":0.58,"b":-0.495},{"v":-0.87,"x":-0.372,"t":0.51,"b":-0.42},{"v":-0.87,"x":-0.322,"t":0.42,"b":-0.325},{"v":-0.87,"x":-0.272,"t":0.325,"b":-0.235},{"v":-0.87,"x":-0.232,"t":0.228,"b":-0.155},{"v":-0.87,"x":-0.192,"t":0.142,"b":-0.085},{"v":-0.87,"x":-0.168,"t":0.09,"b":-0.04},{"v":-0.87,"x":-0.158,"t":0.025,"b":0.025},{"v":-0.87,"x":0.108,"t":0.025,"b":0.025},{"v":-0.87,"x":0.125,"t":0.07,"b":-0.03},{"v":-0.87,"x":0.142,"t":0.1,"b":-0.07},{"v":-0.87,"x":0.172,"t":0.155,"b":-0.13},{"v":-0.87,"x":0.202,"t":0.235,"b":-0.2},{"v":-0.87,"x":0.242,"t":0.32,"b":-0.275},{"v":-0.87,"x":0.292,"t":0.42,"b":-0.36},{"v":-0.87,"x":0.342,"t":0.515,"b":-0.455},{"v":-0.87,"x":0.392,"t":0.59,"b":-0.556},{"v":-0.87,"x":0.43,"t":0.617,"b":-0.6},{"v":-0.87,"x":0.5,"t":0.621,"b":-0.608},{"v":-0.87,"x":0.7,"t":0.617,"b":-0.609},{"v":-0.87,"x":1.01,"t":0.611,"b":-0.617},
{"v":-0.91,"x":-1.01,"t":0.585,"b":-0.5},{"v":-0.91,"x":-0.5,"t":0.585,"b":-0.5},{"v":-0.91,"x":-0.43,"t":0.54,"b":-0.45},{"v":-0.91,"x":-0.29,"t":0.28,"b":-0.21},{"v":-0.91,"x":-0.21,"t":0.09,"b":-0.04},{"v":-0.91,"x":-0.19,"t":0.025,"b":0.025},{"v":-0.91,"x":0.14,"t":0.025,"b":0.025},{"v":-0.91,"x":0.23,"t":0.22,"b":-0.17},{"v":-0.91,"x":0.38,"t":0.52,"b":-0.47},{"v":-0.91,"x":0.48,"t":0.59,"b":-0.58},{"v":-0.91,"x":1.01,"t":0.585,"b":-0.585}
]},
"mark":{"type":"area","interpolate":"monotone","clip":true},
"encoding":{"x":{"field":"x","type":"quantitative","scale":{"domain":[-1.0037,1.0055],"nice":false,"zero":false}},"y":{"field":"t","type":"quantitative","scale":{"domain":[-1.0063,1.0049],"nice":false,"zero":false}},"y2":{"field":"b"},"detail":{"field":"v","type":"nominal"},"color":{"field":"v","type":"quantitative","scale":{"domain":[-1,-0.8,-0.6,-0.4,-0.2,0,0.2,0.4,0.6,0.8,1],"range":["#053061","#2166ac","#4393c3","#92c5de","#d1e5f0","#f7f7f7","#fddbc7","#f4a582","#d6604d","#b2182b","#67001f"]},"legend":null}}},
{"data":{"values":[{"x0":-1.0037,"x1":1.0055,"y0":-1.0063,"y1":1.0049}]},
"mark":{"type":"rect","filled":false,"stroke":"#000","strokeWidth":6,"clip":false},
"encoding":{"x":{"field":"x0","type":"quantitative","scale":{"domain":[-1.0037,1.0055],"nice":false,"zero":false}},"x2":{"field":"x1"},"y":{"field":"y0","type":"quantitative","scale":{"domain":[-1.0063,1.0049],"nice":false,"zero":false}},"y2":{"field":"y1"}}}
]}
